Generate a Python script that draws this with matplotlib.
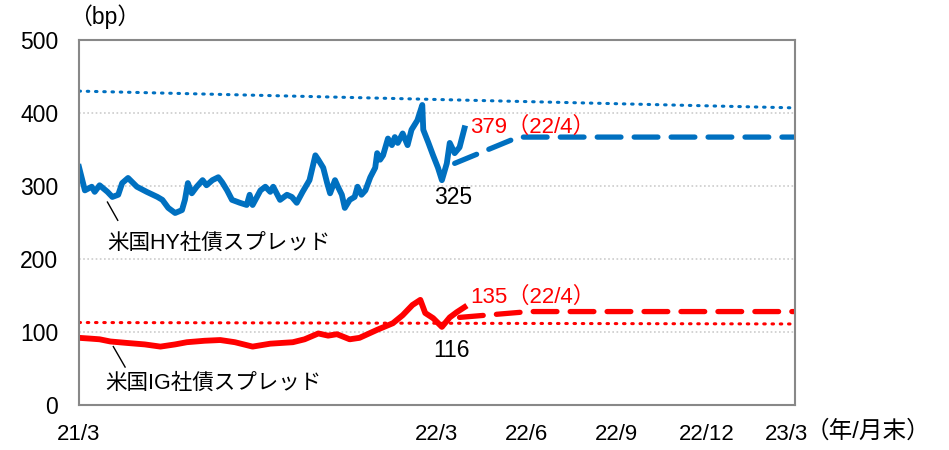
import pandas as pd
import matplotlib
matplotlib.use("Agg")
from matplotlib import pyplot as plt
from matplotlib import transforms

plt.rcParams['font.family'] = ['Liberation Sans', 'Noto Sans CJK JP']

base = pd.Timestamp("2021-03-31")

# days since 21/3 end, spread in bp
hy_days = [0, 6, 13, 16, 21, 29, 34, 40, 44, 50, 59, 69, 80, 85, 91, 98, 105, 108, 111, 115,
           120, 126, 130, 136, 142, 146, 151, 156, 164, 171, 174, 177, 185, 190, 195, 198,
           205, 212, 217, 222, 228, 235, 241, 244, 249, 253, 256, 261, 264, 268, 271, 276,
           281, 284, 288, 292, 297, 302, 304, 307, 310, 315, 319, 322, 325, 330, 335, 339,
           345, 350, 351, 356, 361, 366, 370, 375, 378, 383, 388, 393]
hy_vals = [326, 294, 299, 292, 301, 292, 285, 288, 304, 311, 299, 292, 285, 281, 270, 263, 267, 281, 304, 290,
           299, 308, 301, 308, 312, 305, 294, 281, 277, 274, 288, 274, 294, 299, 292, 299,
           281, 288, 285, 277, 292, 308, 342, 336, 325, 304, 290, 308, 299, 288, 270, 281,
           285, 299, 288, 294, 312, 325, 345, 336, 342, 365, 356, 367, 359, 372, 356, 377,
           390, 411, 377, 360, 342, 325, 308, 331, 359, 345, 353, 379]

ig_days = [0, 11, 21, 32, 49, 67, 83, 98, 110, 128, 144, 159, 177, 195, 218, 230, 244, 254,
           263, 276, 286, 304, 320, 330, 340, 348, 353, 361, 370, 378, 385, 393]
ig_vals = [92, 91, 90, 87, 85, 83, 80, 83, 86, 88, 89, 86, 80, 84, 86, 90, 98, 95,
           97, 90, 92, 103, 112, 123, 137, 144, 126, 119, 107, 120, 127, 134]

# outlook (dashed)
hy_fc_days = [383, 448, 730]
hy_fc_vals = [331, 367, 367]
ig_fc_days = [388, 459, 730]
ig_fc_vals = [120, 128, 128]

# long-run reference (dotted)
avg_days = [0, 730]
hy_avg = [430, 407]
ig_avg = [113, 111]

tick_dates = ["2021-03-31", "2022-03-31", "2022-06-30", "2022-09-30", "2022-12-31", "2023-03-31"]
tick_labels = ["21/3", "22/3", "22/6", "22/9", "22/12", "23/3"]


def to_dates(days):
    return base + pd.to_timedelta(days, unit="D")


blue = "#0070C0"
red = "#FF0000"

fig = plt.figure(figsize=(9.49, 4.5), dpi=100)
ax = fig.add_axes([79 / 949, 45 / 450, 716 / 949, 365 / 450])

ax.plot(to_dates(avg_days), hy_avg, color=blue, lw=2.2, linestyle=(0, (0.5, 2.2)),
        dash_capstyle="round")
ax.plot(to_dates(avg_days), ig_avg, color=red, lw=2.2, linestyle=(0, (0.5, 2.2)),
        dash_capstyle="round")
ax.plot(to_dates(hy_fc_days), hy_fc_vals, color=blue, lw=3.8, linestyle=(0, (4.5, 2.5)),
        dash_capstyle="round")
ax.plot(to_dates(ig_fc_days), ig_fc_vals, color=red, lw=3.8, linestyle=(0, (4.5, 2.5)),
        dash_capstyle="round")
ax.plot(to_dates(hy_days), hy_vals, color=blue, lw=4.2, solid_joinstyle="round")
ax.plot(to_dates(ig_days), ig_vals, color=red, lw=4.2, solid_joinstyle="round")

ax.set_xlim(base, pd.Timestamp("2023-03-31"))
ax.set_ylim(0, 500)
ax.set_yticks([0, 100, 200, 300, 400, 500])
ax.set_xticks(pd.to_datetime(tick_dates))
ax.set_xticklabels(tick_labels)
ax.tick_params(axis="both", length=0)
ax.tick_params(axis="x", pad=14, labelsize=16)
ax.tick_params(axis="y", pad=15, labelsize=16.5)
ax.grid(axis="y", color="#cccccc", linestyle=(0, (1, 1.5)), lw=1.2)
ax.set_axisbelow(True)
for s in ax.spines.values():
    s.set_color("#888888")
    s.set_linewidth(1.5)

# nudge last x label left so it doesn't run into the unit text
last = ax.get_xticklabels()[-1]
last.set_transform(last.get_transform() + transforms.ScaledTranslation(-9 / 100, 0, fig.dpi_scale_trans))

fs = 16.5
ax.text(to_dates([381])[0], 284, "325", ha="center", va="center", fontsize=fs, color="black")
ax.text(to_dates([399])[0], 381, "379（22/4）", ha="left", va="center", fontsize=16, color=red)
ax.text(to_dates([399])[0], 148, "135（22/4）", ha="left", va="center", fontsize=16, color=red)
ax.text(to_dates([380])[0], 75, "116", ha="center", va="center", fontsize=fs, color="black")

ax.text(to_dates([29])[0], 222, "米国HY社債スプレッド", ha="left", va="center", fontsize=15.5)
ax.plot(to_dates([29, 39.5]), [278, 253], color="black", lw=1)
ax.text(to_dates([27])[0], 30, "米国IG社債スプレッド", ha="left", va="center", fontsize=15.5)
ax.plot(to_dates([35, 47]), [80, 52], color="black", lw=1)

fig.text(105 / 949, 1 - 17 / 450, "（bp）", ha="center", va="center", fontsize=16.5)
fig.text(806 / 949, 1 - 432 / 450, "（年/月末）", ha="left", va="center", fontsize=17)

fig.savefig("out.png", dpi=100)
